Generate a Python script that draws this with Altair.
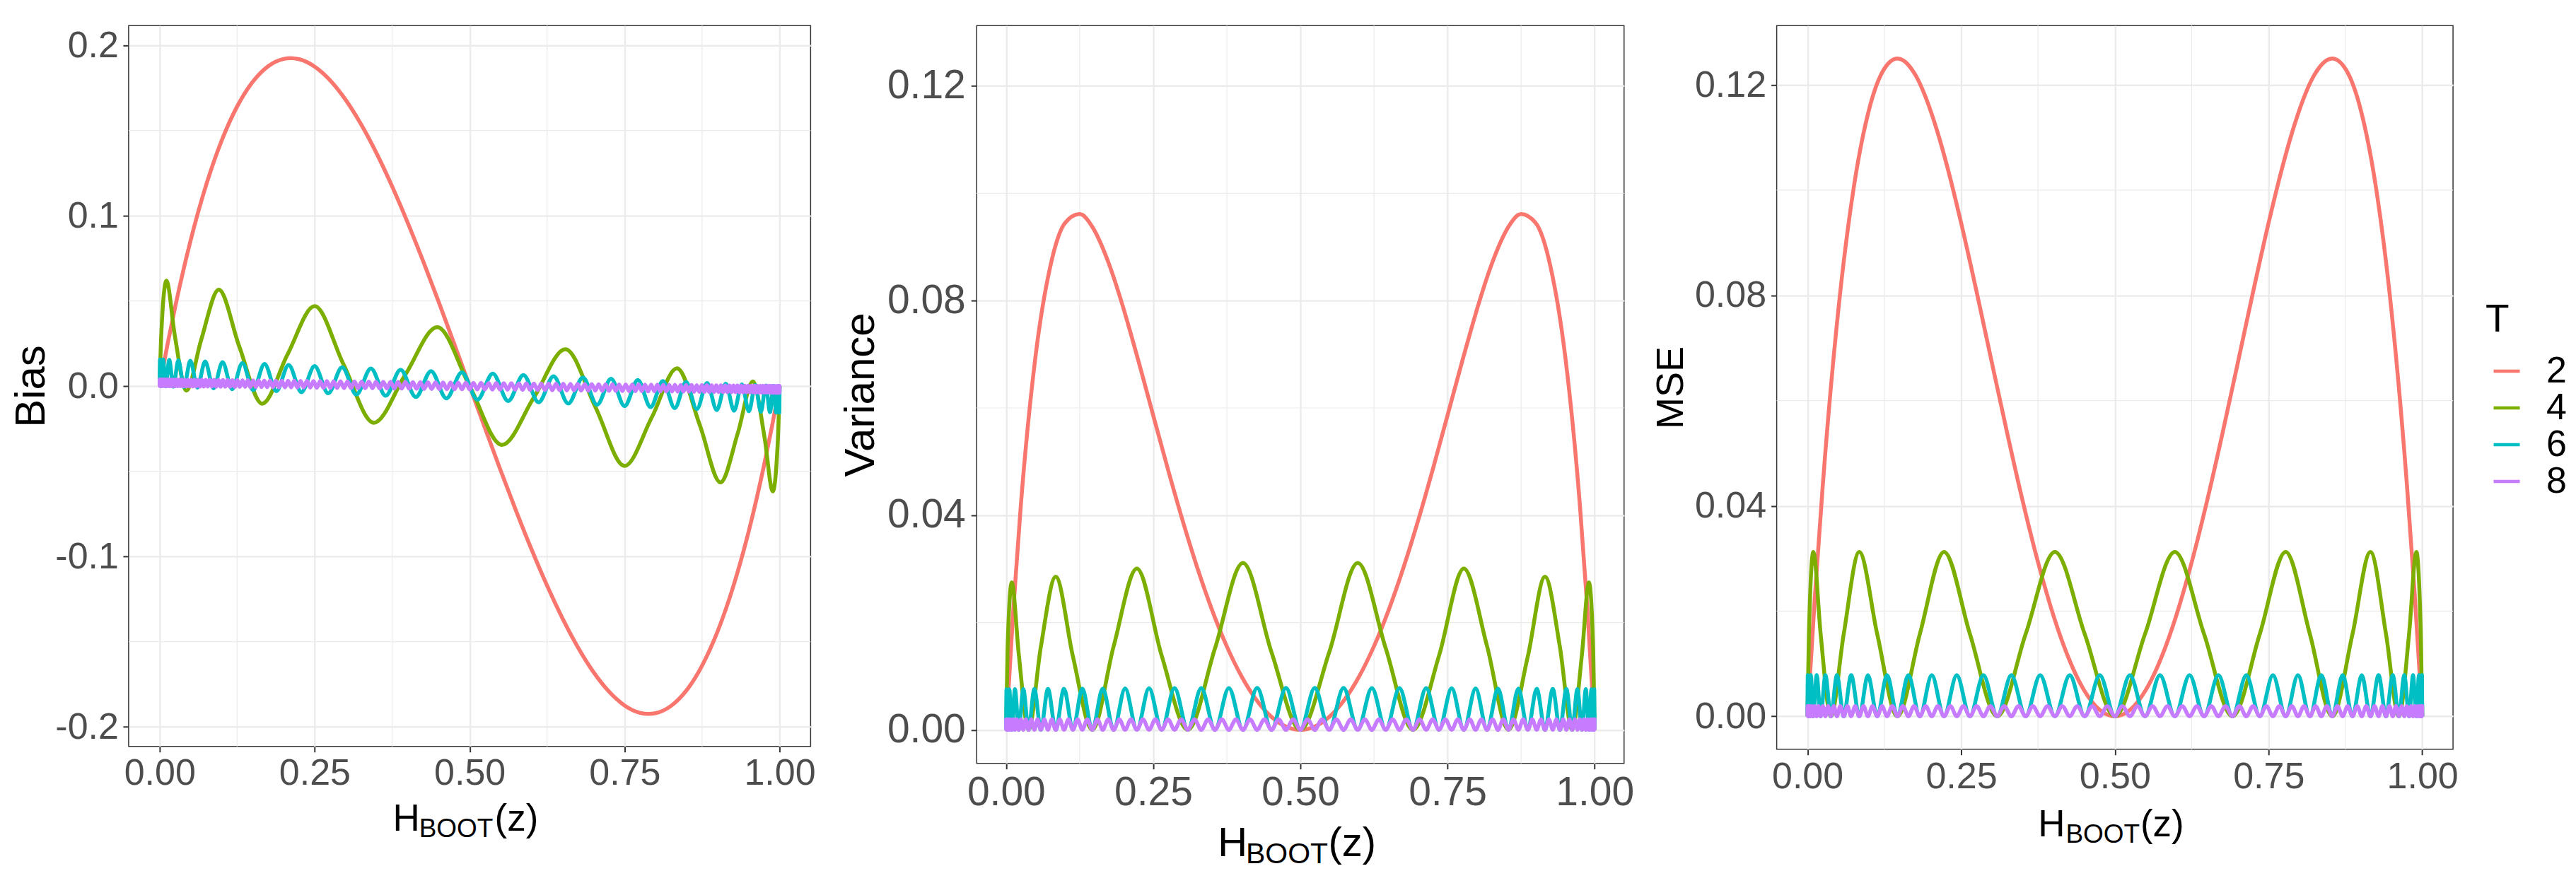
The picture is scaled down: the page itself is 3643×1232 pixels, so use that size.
import altair as alt
import pandas as pd

FONT = "Liberation Sans"
T_LEVELS = ["2", "4", "6", "8"]
T_COLORS = ["#F8766D", "#7CAE00", "#00BFC4", "#C77CFF"]
X_TICKS = [0, 0.25, 0.5, 0.75, 1]
X_MINOR = [0.125, 0.375, 0.625, 0.875]
BIAS_TICKS = [-0.2, -0.1, 0, 0.1, 0.2]
BIAS_MINOR = [-0.15, -0.05, 0.05, 0.15]
VAR_TICKS = [0, 0.04, 0.08, 0.12]
VAR_MINOR = [0.02, 0.06, 0.10]

# ---------------- T = 2 ----------------
x2 = [0, 0.0125, 0.025, 0.05, 0.075, 0.1, 0.125, 0.1464, 0.15, 0.175, 0.2, 0.2113, 0.225, 0.25,
      0.275, 0.3, 0.325, 0.35, 0.375, 0.4, 0.425, 0.45, 0.475, 0.5, 0.525, 0.55, 0.575, 0.6, 0.625,
      0.65, 0.675, 0.7, 0.725, 0.75, 0.775, 0.7887, 0.8, 0.825, 0.85, 0.8536, 0.875, 0.9, 0.925,
      0.95, 0.975, 0.9875, 1]
bias2 = [0, 0.02407, 0.04631, 0.0855, 0.11794, 0.144, 0.16406, 0.17676, 0.1785, 0.18769, 0.192,
         0.19245, 0.19181, 0.1875, 0.17944, 0.168, 0.15356, 0.1365, 0.11719, 0.096, 0.07331, 0.0495,
         0.02494, 0, -0.02494, -0.0495, -0.07331, -0.096, -0.11719, -0.1365, -0.15356, -0.168,
         -0.17944, -0.1875, -0.19181, -0.19245, -0.192, -0.18769, -0.1785, -0.17676, -0.16406,
         -0.144, -0.11794, -0.0855, -0.04631, -0.02407, 0]
var2 = [0, 0.02289, 0.04185, 0.06964, 0.08634, 0.09446, 0.09613, 0.09376, 0.09309, 0.08677, 0.07834,
        0.07408, 0.0687, 0.05859, 0.04855, 0.03898, 0.03017, 0.02232, 0.01556, 0.00998, 0.00562,
        0.0025, 0.00063, 0, 0.00063, 0.0025, 0.00562, 0.00998, 0.01556, 0.02232, 0.03017, 0.03898,
        0.04855, 0.05859, 0.0687, 0.07408, 0.07834, 0.08677, 0.09309, 0.09376, 0.09613, 0.09446,
        0.08634, 0.06964, 0.04185, 0.02289, 0]
mse2 = [0, 0.02347, 0.044, 0.07695, 0.10025, 0.1152, 0.12305, 0.125, 0.12495, 0.122, 0.1152,
        0.11112, 0.1055, 0.09375, 0.08075, 0.0672, 0.05375, 0.04095, 0.0293, 0.0192, 0.011, 0.00495,
        0.00125, 0, 0.00125, 0.00495, 0.011, 0.0192, 0.0293, 0.04095, 0.05375, 0.0672, 0.08075,
        0.09375, 0.1055, 0.11112, 0.1152, 0.122, 0.12495, 0.125, 0.12305, 0.1152, 0.10025, 0.07695,
        0.044, 0.02347, 0]

# ---------------- T = 4 ----------------
x4b = [0, 0.00274, 0.01093, 0.02447, 0.04323, 0.06699, 0.09549, 0.12843, 0.16544, 0.20611, 0.25,
       0.29663, 0.34549, 0.39604, 0.44774, 0.5, 0.55226, 0.60396, 0.65451, 0.70337, 0.75, 0.79389,
       0.83456, 0.87157, 0.90451, 0.93301, 0.95677, 0.97553, 0.98907, 0.99726, 1]
bias4 = [0, 0.03108, 0.06182, 0.02972, -0.0027, 0.02706, 0.05653, 0.02322, -0.01034, 0.01837,
         0.04688, 0.01271, -0.02159, 0.0065, 0.03452, 0, -0.03452, -0.0065, 0.02159, -0.01271,
         -0.04688, -0.01837, 0.01034, -0.02322, -0.05653, -0.02706, 0.0027, -0.02972, -0.06182,
         -0.03108, 0]
var4 = [0, 0.01484, 0.02749, 0.01411, 0, 0.01546, 0.02855, 0.01369, 0, 0.01561, 0.03004, 0.01384,
        0, 0.01519, 0.0311, 0.01446, 0, 0.01446, 0.0311, 0.01519, 0, 0.01384, 0.03004, 0.01561,
        0, 0.01369, 0.02855, 0.01546, 0, 0.01411, 0.02749, 0.01484, 0]
mse4 = [0, 0.01563, 0.03125, 0.01563, 0, 0.01563, 0.03125, 0.01563, 0, 0.01563, 0.03125, 0.01563,
        0, 0.01563, 0.03125, 0.01563, 0, 0.01563, 0.03125, 0.01563, 0, 0.01563, 0.03125, 0.01563,
        0, 0.01563, 0.03125, 0.01563, 0, 0.01563, 0.03125, 0.01563, 0]

# ---------------- T = 6 ----------------
x6b = [0, 0.0006, 0.0025, 0.0056, 0.0099, 0.0155, 0.0222, 0.0302, 0.0393, 0.0495, 0.0609, 0.0734,
       0.0869, 0.1014, 0.1170, 0.1335, 0.1509, 0.1692, 0.1883, 0.2081, 0.2287, 0.25, 0.2719,
       0.2944, 0.3173, 0.3408, 0.3646, 0.3887, 0.4132, 0.4378, 0.4626, 0.4875, 0.5125, 0.5374,
       0.5622, 0.5868, 0.6113, 0.6354, 0.6592, 0.6827, 0.7056, 0.7281, 0.75, 0.7713, 0.7919,
       0.8117, 0.8308, 0.8491, 0.8665, 0.8830, 0.8986, 0.9131, 0.9266, 0.9391, 0.9505, 0.9607,
       0.9698, 0.9778, 0.9845, 0.9901, 0.9944, 0.9975, 0.9994, 1]
bias6 = [0, 0.01562, -0.00004, 0.01554, -0.00015, 0.01538, -0.00035, 0.01515, -0.00061, 0.01485,
         -0.00095, 0.01448, -0.00136, 0.01404, -0.00183, 0.01354, -0.00236, 0.01298, -0.00294,
         0.01237, -0.00357, 0.01172, -0.00425, 0.01103, -0.00496, 0.0103, -0.0057, 0.00955,
         -0.00646, 0.00878, -0.00723, 0.00801, -0.00801, 0.00723, -0.00878, 0.00646, -0.00955,
         0.0057, -0.0103, 0.00496, -0.01103, 0.00425, -0.01172, 0.00357, -0.01237, 0.00294,
         -0.01298, 0.00236, -0.01354, 0.00183, -0.01404, 0.00136, -0.01448, 0.00095, -0.01485,
         0.00061, -0.01515, 0.00035, -0.01538, 0.00015, -0.01554, 0.00004, -0.01562, 0]
var6 = [0,
        0.00757, 0, 0.00757, 0, 0.00758, 0, 0.0076, 0, 0.00761, 0, 0.00763, 0, 0.00766, 0, 0.00768, 0,
        0.0077, 0, 0.00773, 0, 0.00775, 0, 0.00777, 0, 0.00779, 0, 0.0078, 0, 0.00781, 0, 0.00781, 0,
        0.00781, 0, 0.00781, 0, 0.0078, 0, 0.00779, 0, 0.00777, 0, 0.00775, 0, 0.00773, 0, 0.0077, 0,
        0.00768, 0, 0.00766, 0, 0.00763, 0, 0.00761, 0, 0.0076, 0, 0.00758, 0, 0.00757, 0, 0.00757, 0]
mse6 = [0,
        0.00781, 0, 0.00781, 0, 0.00781, 0, 0.00781, 0, 0.00781, 0, 0.00781, 0, 0.00781, 0, 0.00781, 0,
        0.00781, 0, 0.00781, 0, 0.00781, 0, 0.00781, 0, 0.00781, 0, 0.00781, 0, 0.00781, 0, 0.00781, 0,
        0.00781, 0, 0.00781, 0, 0.00781, 0, 0.00781, 0, 0.00781, 0, 0.00781, 0, 0.00781, 0, 0.00781, 0,
        0.00781, 0, 0.00781, 0, 0.00781, 0, 0.00781, 0, 0.00781, 0, 0.00781, 0, 0.00781, 0, 0.00781, 0]

# ---------------- T = 8 ----------------
x8b = [0, 0.00004, 0.00015, 0.00034, 0.0006, 0.00094, 0.0014, 0.00184, 0.0024, 0.00305, 0.0038, 0.00455, 0.0054, 0.00635, 0.0074, 0.00845,
       0.0096, 0.0108, 0.0122, 0.0135, 0.0150, 0.0165, 0.0181, 0.0198, 0.0215, 0.0234, 0.0252, 0.0272, 0.0292, 0.0313, 0.0335, 0.0358,
       0.0381, 0.0405, 0.0429, 0.0454, 0.0480, 0.0507, 0.0534, 0.0562, 0.0590, 0.0620, 0.0650, 0.0680, 0.0711, 0.0743, 0.0776, 0.0809,
       0.0843, 0.0877, 0.0912, 0.0948, 0.0984, 0.1021, 0.1058, 0.1096, 0.1135, 0.1174, 0.1214, 0.1254, 0.1295, 0.1337, 0.1379, 0.1421,
       0.1464, 0.1508, 0.1552, 0.1597, 0.1642, 0.1688, 0.1734, 0.1781, 0.1828, 0.1876, 0.1924, 0.1972, 0.2022, 0.2071, 0.2121, 0.2171,
       0.2222, 0.2273, 0.2325, 0.2377, 0.2429, 0.2482, 0.2536, 0.2589, 0.2643, 0.2697, 0.2752, 0.2807, 0.2862, 0.2918, 0.2974, 0.3030,
       0.3087, 0.3143, 0.3201, 0.3258, 0.3316, 0.3374, 0.3432, 0.3490, 0.3549, 0.3607, 0.3666, 0.3726, 0.3785, 0.3845, 0.3904, 0.3965,
       0.4025, 0.4085, 0.4145, 0.4206, 0.4266, 0.4327, 0.4388, 0.4449, 0.4510, 0.4571, 0.4632, 0.4693, 0.4755, 0.4816, 0.4877, 0.4939,
       0.5,
       0.5061, 0.5123, 0.5184, 0.5245, 0.5307, 0.5368, 0.5429, 0.5490, 0.5551, 0.5612, 0.5673, 0.5734, 0.5794, 0.5855, 0.5915, 0.5975,
       0.6035, 0.6096, 0.6155, 0.6215, 0.6274, 0.6334, 0.6393, 0.6451, 0.6510, 0.6568, 0.6626, 0.6684, 0.6742, 0.6799, 0.6857, 0.6913,
       0.6970, 0.7026, 0.7082, 0.7138, 0.7193, 0.7248, 0.7303, 0.7357, 0.7411, 0.7464, 0.7518, 0.7571, 0.7623, 0.7675, 0.7727, 0.7778,
       0.7829, 0.7879, 0.7929, 0.7978, 0.8028, 0.8076, 0.8124, 0.8172, 0.8219, 0.8266, 0.8312, 0.8358, 0.8403, 0.8448, 0.8492, 0.8536,
       0.8579, 0.8621, 0.8663, 0.8705, 0.8746, 0.8786, 0.8826, 0.8865, 0.8904, 0.8942, 0.8979, 0.9016, 0.9052, 0.9088, 0.9123, 0.9157,
       0.9191, 0.9224, 0.9257, 0.9289, 0.9320, 0.9350, 0.9380, 0.9410, 0.9438, 0.9466, 0.9493, 0.9520, 0.9546, 0.9571, 0.9595, 0.9619,
       0.9642, 0.9665, 0.9687, 0.9708, 0.9728, 0.9748, 0.9766, 0.9785, 0.9802, 0.9819, 0.9835, 0.9850, 0.9865, 0.9878, 0.9892, 0.9904,
       0.99155, 0.9926, 0.99365, 0.9946, 0.99545, 0.9962, 0.99695, 0.9976, 0.99816, 0.9986, 0.99906, 0.9994, 0.99966, 0.99985, 0.99996, 1]
bias8 = [0, .0039, 0, .0039, 0, .0039, 0, .0039, 0, .0039, 0, .0039, 0, .0039, 0, .0039,
         0, .0039, 0, .0039, -.0001, .0038, -.0001, .0038, -.0001, .0038, -.0001, .0038, -.0001, .0038, -.0001, .0038,
         -.0001, .0037, -.0002, .0037, -.0002, .0037, -.0002, .0037, -.0002, .0037, -.0003, .0036, -.0003, .0036, -.0003, .0036,
         -.0003, .0036, -.0004, .0035, -.0004, .0035, -.0004, .0035, -.0004, .0034, -.0005, .0034, -.0005, .0034, -.0005, .0034,
         -.0006, .0033, -.0006, .0033, -.0006, .0032, -.0007, .0032, -.0007, .0032, -.0008, .0031, -.0008, .0031, -.0008, .0031,
         -.0009, .0030, -.0009, .0030, -.0009, .0029, -.0010, .0029, -.0010, .0029, -.0011, .0028, -.0011, .0028, -.0012, .0027,
         -.0012, .0027, -.0013, .0026, -.0013, .0026, -.0013, .0025, -.0014, .0025, -.0014, .0025, -.0015, .0024, -.0015, .0024,
         -.0016, .0023, -.0016, .0023, -.0017, .0022, -.0017, .0022, -.0018, .0021, -.0018, .0021, -.0019, .0020, -.0019, .0020,
         -.0020,
         .0019, -.0020, .0019, -.0020, .0018, -.0021, .0018, -.0021, .0017, -.0022, .0017, -.0022, .0016, -.0023, .0016, -.0023,
         .0015, -.0024, .0015, -.0024, .0015, -.0025, .0014, -.0025, .0014, -.0026, .0013, -.0026, .0013, -.0027, .0012, -.0027,
         .0012, -.0027, .0011, -.0028, .0011, -.0028, .0011, -.0029, .0010, -.0029, .0010, -.0030, .0009, -.0030, .0009, -.0030,
         .0008, -.0031, .0008, -.0031, .0008, -.0032, .0007, -.0032, .0007, -.0032, .0007, -.0033, .0006, -.0033, .0006, -.0033,
         .0006, -.0034, .0005, -.0034, .0005, -.0034, .0005, -.0035, .0004, -.0035, .0004, -.0035, .0004, -.0036, .0003, -.0036,
         .0003, -.0036, .0003, -.0036, .0003, -.0037, .0002, -.0037, .0002, -.0037, .0002, -.0037, .0002, -.0037, .0002, -.0038,
         .0001, -.0038, .0001, -.0038, .0001, -.0038, .0001, -.0038, .0001, -.0038, .0001, -.0038, .0001, -.0039, 0, -.0039,
         0, -.0039, 0, -.0039, 0, -.0039, 0, -.0039, 0, -.0039, 0, -.0039, 0, -.0039, 0, -.0039]
mse8 = [0,
        .00195, 0, .00195, 0, .00195, 0, .00195, 0, .00195, 0, .00195, 0, .00195, 0, .00195, 0,
        .00195, 0, .00195, 0, .00195, 0, .00195, 0, .00195, 0, .00195, 0, .00195, 0, .00195, 0,
        .00195, 0, .00195, 0, .00195, 0, .00195, 0, .00195, 0, .00195, 0, .00195, 0, .00195, 0,
        .00195, 0, .00195, 0, .00195, 0, .00195, 0, .00195, 0, .00195, 0, .00195, 0, .00195, 0,
        .00195, 0, .00195, 0, .00195, 0, .00195, 0, .00195, 0, .00195, 0, .00195, 0, .00195, 0,
        .00195, 0, .00195, 0, .00195, 0, .00195, 0, .00195, 0, .00195, 0, .00195, 0, .00195, 0,
        .00195, 0, .00195, 0, .00195, 0, .00195, 0, .00195, 0, .00195, 0, .00195, 0, .00195, 0,
        .00195, 0, .00195, 0, .00195, 0, .00195, 0, .00195, 0, .00195, 0, .00195, 0, .00195, 0]
var8 = list(mse8)  # variance and MSE for T = 8 coincide at this scale

# coarser sample positions are every 2nd / 4th / 8th entry of the T=8 position table
x8v = x8b[::2]
x6v = x8b[::4]
x4v = x8b[::8]


def series(xs, ys, t):
    return pd.DataFrame({"x": xs, "y": ys, "T": t, "i": list(range(len(xs)))})


bias_df = pd.concat([series(x2, bias2, "2"), series(x4b, bias4, "4"),
                     series(x6b, bias6, "6"), series(x8b, bias8, "8")], ignore_index=True)
var_df = pd.concat([series(x2, var2, "2"), series(x4v, var4, "4"),
                    series(x6v, var6, "6"), series(x8v, var8, "8")], ignore_index=True)
mse_df = pd.concat([series(x2, mse2, "2"), series(x4v, mse4, "4"),
                    series(x6v, mse6, "6"), series(x8v, mse8, "8")], ignore_index=True)

color = alt.Color(
    "T:N",
    scale=alt.Scale(domain=T_LEVELS, range=T_COLORS),
    legend=alt.Legend(
        title="T", orient="none", legendX=3335, legendY=390, direction="vertical",
        symbolType="stroke", symbolSize=1369, symbolStrokeWidth=4.5, symbolOffset=4,
        labelFontSize=52, titleFontSize=55, titleFontWeight="normal", titleColor="black",
        labelColor="black", labelOffset=30, rowPadding=-3, titlePadding=18, padding=0,
        labelFont=FONT, titleFont=FONT,
    ),
)


def piece(text, x, y, size, align):
    return alt.Chart(pd.DataFrame({"t": [text]})).mark_text(
        align=align, baseline="alphabetic", fontSize=size, font=FONT, color="black"
    ).encode(text="t:N", x=alt.value(x), y=alt.value(y))


def panel(df, W, H, ydom, yticks, yminor, ylabel_expr, ytitle, tick_fs, ytitle_fs,
          xlab_pad, ylab_pad, ytitle_pad, title_parts, top_shift, right_ext=None):
    xs = alt.Scale(domain=[-0.05, 1.05], nice=False, zero=False)
    ys = alt.Scale(domain=ydom, nice=False, zero=False)
    xaxis = alt.Axis(values=X_TICKS, format=".2f", title=None, labelFontSize=tick_fs,
                     labelPadding=xlab_pad, labelFlush=False, labelOverlap=False, grid=True)
    yaxis = alt.Axis(values=yticks, labelExpr=ylabel_expr, title=ytitle, labelFontSize=tick_fs,
                     titleFontSize=ytitle_fs, labelPadding=ylab_pad, titlePadding=ytitle_pad,
                     labelOverlap=False, grid=True)
    X = alt.X("x:Q", scale=xs, axis=xaxis)
    Y = alt.Y("y:Q", scale=ys, axis=yaxis)
    minor_x = alt.Chart(pd.DataFrame({"x": X_MINOR})).mark_rule(
        color="#EBEBEB", strokeWidth=1.2).encode(x=X)
    minor_y = alt.Chart(pd.DataFrame({"y": yminor})).mark_rule(
        color="#EBEBEB", strokeWidth=1.2).encode(y=Y)
    lines = alt.Chart(df).mark_line(
        strokeWidth=5.5, interpolate="monotone", strokeJoin="round"
    ).encode(x=X, y=Y, color=color, order=alt.Order("i:Q"))
    layers = [minor_x, minor_y, lines]
    for (txt, px, py, fs, al) in title_parts:
        layers.append(piece(txt, px, py, fs, al))
    one = pd.DataFrame({"a": [0]})
    if top_shift > 0:
        layers.append(alt.Chart(one).mark_rule(opacity=0, strokeWidth=1).encode(
            x=alt.value(0), y=alt.value(-top_shift + 0.5), y2=alt.value(0)))
    if right_ext is not None:
        layers.append(alt.Chart(one).mark_rule(opacity=0, strokeWidth=1).encode(
            x=alt.value(right_ext), y=alt.value(0), y2=alt.value(1)))
    return alt.layer(*layers).properties(width=W, height=H)


bias_expr = "datum.value < 0 ? '-' + format(-datum.value, '.1f') : format(datum.value, '.1f')"
var_expr = "format(datum.value, '.2f')"

p1 = panel(bias_df, 965, 1020, [-0.2115, 0.2115], BIAS_TICKS, BIAS_MINOR, bias_expr, "Bias",
           52, 60, 4.6, 6.5, 2.5,
           [("H", 412, 1139, 53, "right"), ("BOOT", 411, 1148, 37, "left"), ("(z)", 518, 1139, 53, "left")],
           8.25, right_ext=980)
p2 = panel(var_df, 916, 1044, [-0.00625, 0.13125], VAR_TICKS, VAR_MINOR, var_expr, "Variance",
           57, 60, 5.9, 8, 6,
           [("H", 383, 1175, 58, "right"), ("BOOT", 381, 1185, 41, "left"), ("(z)", 497.5, 1175, 58, "left")],
           0)
p3 = panel(mse_df, 957, 1024, [-0.00625, 0.13125], VAR_TICKS, VAR_MINOR, var_expr, "MSE",
           52, 54, 5.6, 7, 6,
           [("H", 408, 1147, 53, "right"), ("BOOT", 409, 1156, 37, "left"), ("(z)", 514.6, 1147, 53, "left")],
           12.65)

chart = alt.hconcat(p1, p2, p3, spacing=24).resolve_scale(
    x="independent", y="independent", color="shared"
).properties(
    padding={"left": 5, "top": 15, "right": 5, "bottom": 5}, background="white"
).configure(font=FONT).configure_view(
    stroke="#333333", strokeWidth=1.5
).configure_axis(
    domain=False, tickColor="#333333", tickWidth=2, tickSize=8, labelColor="#4D4D4D",
    titleColor="black", titleFontWeight="normal", gridColor="#EBEBEB", gridWidth=2.4,
    labelFont=FONT, titleFont=FONT,
)

chart.save("out.html", embed_options={"renderer": "svg", "actions": False})
